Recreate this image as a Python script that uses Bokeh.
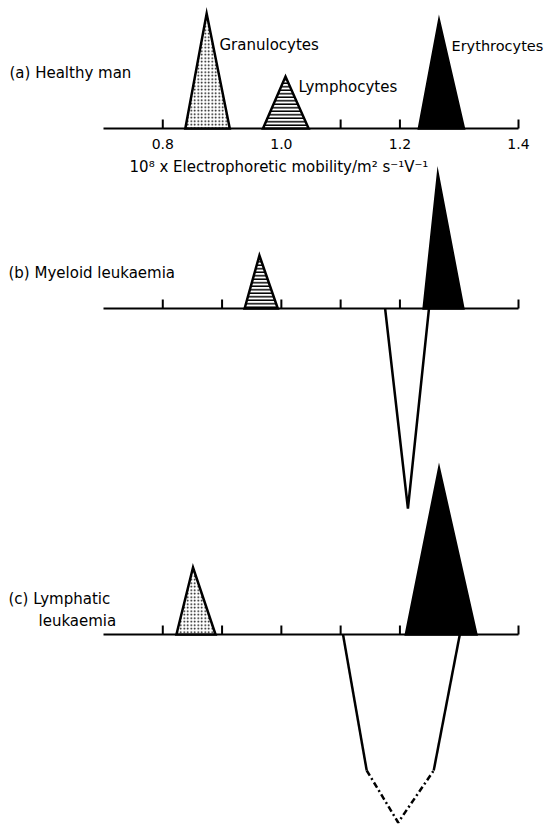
from bokeh.plotting import figure
from bokeh.models import Range1d
from bokeh.core.properties import value
from bokeh.embed import file_html
from bokeh.resources import INLINE

# ---------------- data (mobility: 1e-8 m2 s-1 V-1, heights: relative units) ----
tick_values = [0.8, 0.9, 1.0, 1.1, 1.2, 1.3, 1.4]
label_values = [0.8, 1.0, 1.2, 1.4]
label_texts = ["0.8", "1.0", "1.2", "1.4"]
axis_start, axis_end = 0.7, 1.4

# (a) Healthy man : [left foot, peak, right foot] and peak height
gran_a_x = [0.838, 0.874, 0.913]
gran_a_h = 115
lymph_a_x = [0.969, 1.007, 1.046]
lymph_a_h = 52
eryth_a_x = [1.232, 1.266, 1.308]
eryth_a_h = 108

# (b) Myeloid leukaemia
lymph_b_x = [0.938, 0.963, 0.994]
lymph_b_h = 53
eryth_b_x = [1.240, 1.264, 1.307]
eryth_b_h = 134
loss_b_x = [1.175, 1.2135, 1.249]
loss_b_d = [0, 200, 0]

# (c) Lymphatic leukaemia
gran_c_x = [0.823, 0.851, 0.889]
gran_c_h = 67
eryth_c_x = [1.210, 1.266, 1.329]
eryth_c_h = 166
loss_c_x = [1.104, 1.144, 1.197, 1.257, 1.301]
loss_c_d = [0, 136, 188, 136, 0]

# ---------------- layout ----------------
W, H = 546, 825
PX0, PX1 = 103.0, 518.0            # pixel positions of 0.7 and 1.4
k = (PX1 - PX0) / (axis_end - axis_start)
X0 = axis_start - PX0 / k
X1 = axis_start + (W - PX0) / k
base_a, base_b, base_c = -128, -308, -634
FONT = value("DejaVu Sans")


def px(xp):
    return X0 + xp / k


p = figure(width=W, height=H, x_range=Range1d(X0, X1), y_range=Range1d(-H, 0),
           output_backend="svg", toolbar_location=None, min_border=0,
           x_axis_type=None, y_axis_type=None, outline_line_color=None,
           background_fill_color="white", border_fill_color="white")
p.grid.visible = False


def axis(base):
    p.line([axis_start, axis_end], [base, base], line_color="black", line_width=2)
    p.segment(x0=tick_values, y0=[base] * len(tick_values), x1=tick_values,
              y1=[base + 9] * len(tick_values), line_color="black", line_width=2)


def peak(xs, h, base, kind):
    ys = [base, base + h, base]
    kw = dict(line_color="black", line_width=2.5, line_join="miter")
    if kind == "gran":
        p.patch(xs, ys, fill_color="white", hatch_pattern="dot", hatch_scale=3.5,
                hatch_weight=1.3, hatch_color="black", **kw)
    elif kind == "lymph":
        p.patch(xs, ys, fill_color="white", hatch_pattern="horizontal_line",
                hatch_scale=3.5, hatch_weight=1.5, hatch_color="black", **kw)
    else:
        p.patch(xs, ys, fill_color="black", **kw)


def text(x, y, t, size="15px", align="left"):
    p.text(x=[x], y=[y], text=[t], text_font=FONT, text_font_size=size,
           text_align=align, text_baseline="middle", text_color="black")


# panel (a)
axis(base_a)
peak(gran_a_x, gran_a_h, base_a, "gran")
peak(lymph_a_x, lymph_a_h, base_a, "lymph")
peak(eryth_a_x, eryth_a_h, base_a, "eryth")
p.text(x=label_values, y=[base_a - 15] * len(label_values), text=label_texts,
       text_font=FONT, text_font_size="14px", text_align="center",
       text_baseline="middle", text_color="black")
text(px(9), -72, "(a) Healthy man")
text(px(219), -44, "Granulocytes")
text(px(298), -86, "Lymphocytes")
text(px(451), -45, "Erythrocytes", size="14.5px")
text(1.0, -166, "10\u2078 x Electrophoretic  mobility/m\u00b2 s\u207b\u00b9V\u207b\u00b9",
     size="15px", align="center")

# panel (b)
axis(base_b)
peak(lymph_b_x, lymph_b_h, base_b, "lymph")
peak(eryth_b_x, eryth_b_h, base_b, "eryth")
p.line(loss_b_x, [base_b - d for d in loss_b_d], line_color="black", line_width=2.5)
text(px(8), -272, "(b)  Myeloid  leukaemia")

# panel (c)
axis(base_c)
peak(gran_c_x, gran_c_h, base_c, "gran")
peak(eryth_c_x, eryth_c_h, base_c, "eryth")
yc = [base_c - d for d in loss_c_d]
p.line(loss_c_x[:2], yc[:2], line_color="black", line_width=2.5)
p.line(loss_c_x[3:], yc[3:], line_color="black", line_width=2.5)
p.line(loss_c_x[1:4], yc[1:4], line_color="black", line_width=2.5, line_dash="6 3 2 3")
text(px(8), -598, "(c)  Lymphatic")
text(px(38), -620, "leukaemia")

open("out.html", "w").write(file_html(p, INLINE))
